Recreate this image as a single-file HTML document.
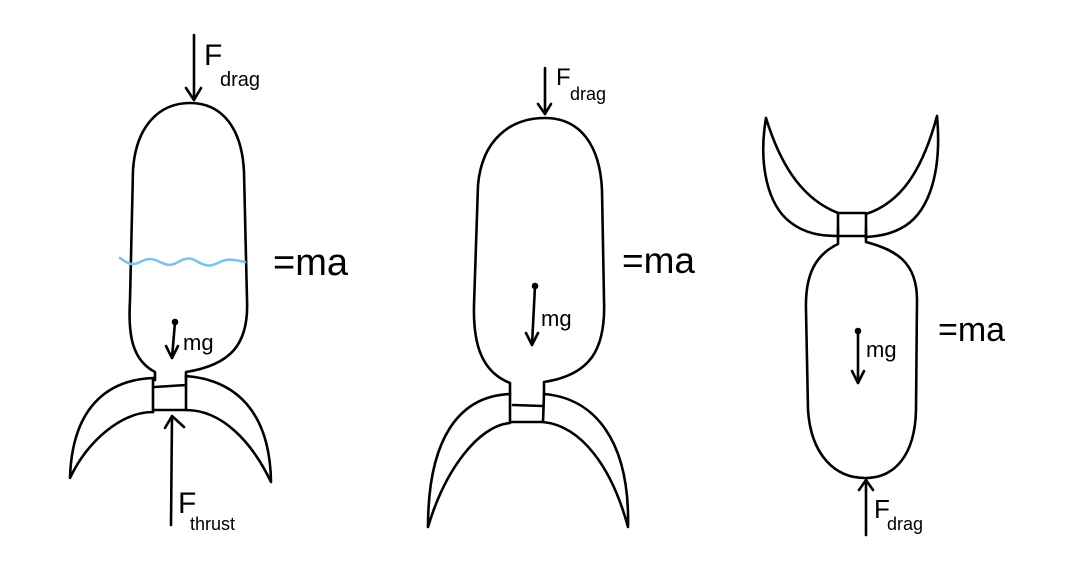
<!DOCTYPE html>
<html><head><meta charset="utf-8"><style>
html,body{margin:0;padding:0;background:#fff;}
svg{display:block;}
text{font-family:"Liberation Sans",sans-serif;fill:#000;}
</style></head><body>
<svg width="1067" height="570" viewBox="0 0 1067 570">
<g fill="none" stroke="#000" stroke-width="2.6" stroke-linecap="round" stroke-linejoin="round">
<g>
<path d="M155,380 L155,372 C132,360 128,335 130,300 L133,170 C136,125 160,103 190,103 C222,103 242,128 244,172 L247,300 C249,345 230,365 186,372 L186,380"/>
<path d="M153,378 L153,412 M186,376 L186,410 M155,387 L186,385 M153,410 L186,410"/>
<path d="M153,378 C105,380 72,410 70,478 C88,440 122,412 153,412"/>
<path d="M186,376 C236,380 270,412 271,482 C252,442 222,410 186,410"/>
<path d="M194,35 L194,100 M186,88 L194,100 L201,88"/>
<path d="M175,322 L172,358 M166,346 L172,358 L178,346"/>
<circle cx="175" cy="322" r="2" fill="#000"/>
<path d="M171,525 L172,416 M165,428 L172,416 L184,427"/>
</g>
<path stroke="#7bc3ea" d="M120,258 C128,264 133,266 140,262 C148,258 152,258 160,262 C168,266 172,266 180,261 C188,257 192,258 200,263 C208,267 212,266 220,262 C228,258 235,260 245,262"/>
<g>
<path d="M510,395 L510,383 C482,372 473,345 474,305 L478,185 C482,140 510,118 545,118 C580,118 600,145 602,190 L604,300 C606,350 590,375 544,382 L544,395"/>
<path d="M510,395 L510,422 M544,394 L543,422 M513,405 L543,406 M510,422 L543,422"/>
<path d="M510,394 C458,396 428,440 428,527 C445,470 478,426 510,423"/>
<path d="M544,394 C594,398 630,440 628,527 C612,468 582,426 543,422"/>
<path d="M545,68 L545,114 M538,104 L545,114 L551,104"/>
<path d="M535,286 L532,345 M526,333 L532,345 L538,333"/>
<circle cx="535" cy="286" r="2" fill="#000"/>
</g>
<g>
<path d="M838,228 L838,244 C815,255 805,275 806,310 L808,410 C811,455 835,478 865,478 C895,478 915,455 916,410 L917,300 C917,262 896,250 866,242 L866,228"/>
<path d="M838,213 L838,238 M866,213 L866,238 M838,213 L866,213 M838,236 L866,236"/>
<path d="M766,118 C758,165 768,205 790,222 C805,234 822,236 838,236 M766,118 C782,170 805,200 838,213"/>
<path d="M937,116 C942,170 930,210 905,226 C892,234 880,236 866,237 M937,116 C922,172 900,203 866,214"/>
<path d="M866,535 L866,480 M859,490 L866,480 L873,490"/>
<path d="M858,331 L858,383 M852,371 L858,383 L864,371"/>
<circle cx="858" cy="331" r="2" fill="#000"/>
</g>
</g>
<g>
<text x="204" y="65" font-size="30">F</text>
<text x="220" y="86" font-size="20">drag</text>
<text x="183" y="350" font-size="22">mg</text>
<text x="178" y="513" font-size="30">F</text>
<text x="190" y="530" font-size="18">thrust</text>
<text x="273" y="275" font-size="38">=ma</text>
<text x="556" y="85" font-size="24">F</text>
<text x="570" y="100" font-size="18">drag</text>
<text x="541" y="326" font-size="22">mg</text>
<text x="622" y="273" font-size="37">=ma</text>
<text x="874" y="518" font-size="26">F</text>
<text x="887" y="530" font-size="18">drag</text>
<text x="866" y="357" font-size="22">mg</text>
<text x="938" y="341" font-size="34">=ma</text>
</g>
</svg>
</body></html>
